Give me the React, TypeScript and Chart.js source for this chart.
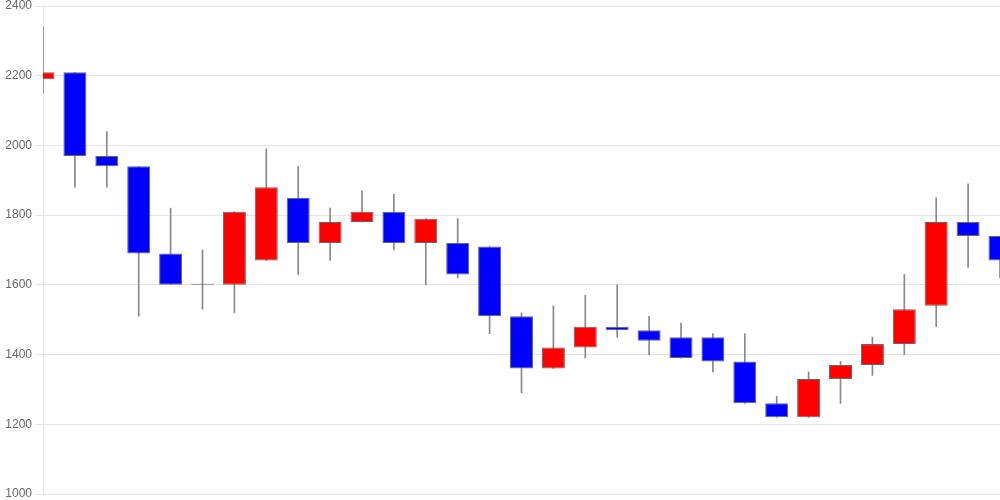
import React, { useEffect, useRef } from "react";
import { Chart, registerables } from "chart.js";

Chart.register(...registerables);

const labels = Array.from({ length: 31 }, (_, i) => String(i + 1));
const openValues = [2190, 2210, 1970, 1940, 1690, 1600, 1600, 1670, 1850, 1720, 1780, 1810, 1720, 1720, 1710, 1510, 1360, 1420, 1480, 1470, 1450, 1450, 1380, 1260, 1220, 1330, 1370, 1430, 1540, 1780, 1740];
const closeValues = [2210, 1970, 1940, 1690, 1600, 1600, 1810, 1880, 1720, 1780, 1810, 1720, 1790, 1630, 1510, 1360, 1420, 1480, 1470, 1440, 1390, 1380, 1260, 1220, 1330, 1370, 1430, 1530, 1780, 1740, 1670];
const highValues = [2340, 2210, 2040, 1940, 1820, 1700, 1810, 1990, 1940, 1820, 1870, 1860, 1790, 1790, 1710, 1520, 1540, 1570, 1600, 1510, 1490, 1460, 1460, 1280, 1350, 1380, 1450, 1630, 1850, 1890, 1740];
const lowValues = [2150, 1880, 1880, 1510, 1600, 1530, 1520, 1670, 1630, 1670, 1780, 1700, 1600, 1620, 1460, 1290, 1360, 1390, 1450, 1400, 1390, 1350, 1260, 1220, 1220, 1260, 1340, 1400, 1480, 1650, 1620];
const yTicks = [1000, 1200, 1400, 1600, 1800, 2000, 2200, 2400];

export default function App() {
  const ref = useRef<HTMLCanvasElement | null>(null);
  useEffect(() => {
    if (!ref.current) return;
    const bodyColors = openValues.map((o, i) => (closeValues[i] > o ? "#ff0000" : "#0000ff"));
    const chart = new Chart(ref.current, {
      type: "bar",
      data: {
        labels,
        datasets: [
          {
            label: "body",
            data: openValues.map((o, i) => [o, closeValues[i]]) as any,
            backgroundColor: bodyColors,
            borderColor: "#666666",
            borderWidth: 1,
            borderSkipped: false,
            grouped: false,
            barPercentage: 0.72,
            categoryPercentage: 1,
            minBarLength: 1,
          } as any,
          {
            label: "wick",
            data: lowValues.map((l, i) => [l, highValues[i]]) as any,
            backgroundColor: "#888888",
            borderWidth: 0,
            grouped: false,
            barThickness: 1,
          } as any,
        ],
      },
      options: {
        animation: false,
        responsive: true,
        maintainAspectRatio: false,
        layout: { padding: { top: 6, right: 0, bottom: 6, left: 0 } },
        plugins: { legend: { display: false }, tooltip: { enabled: false } },
        scales: {
          x: { display: false, offset: false },
          y: {
            min: yTicks[0],
            max: yTicks[yTicks.length - 1],
            afterBuildTicks: (scale: any) => {
              scale.ticks = yTicks.map((v) => ({ value: v }));
            },
            afterFit: (scale: any) => {
              scale.width = 43;
              scale.paddingTop = 0;
              scale.paddingBottom = 0;
            },
            ticks: {
              color: "#666666",
              font: { size: 12 },
              callback: (v: any) => String(v),
            },
            grid: { color: "rgba(0,0,0,0.1)" },
          },
        },
      },
    });
    return () => chart.destroy();
  }, []);
  return (
    <div style={{ position: "absolute", left: 0, top: 0, width: 1000, height: 500 }}>
      <canvas ref={ref} />
    </div>
  );
}
